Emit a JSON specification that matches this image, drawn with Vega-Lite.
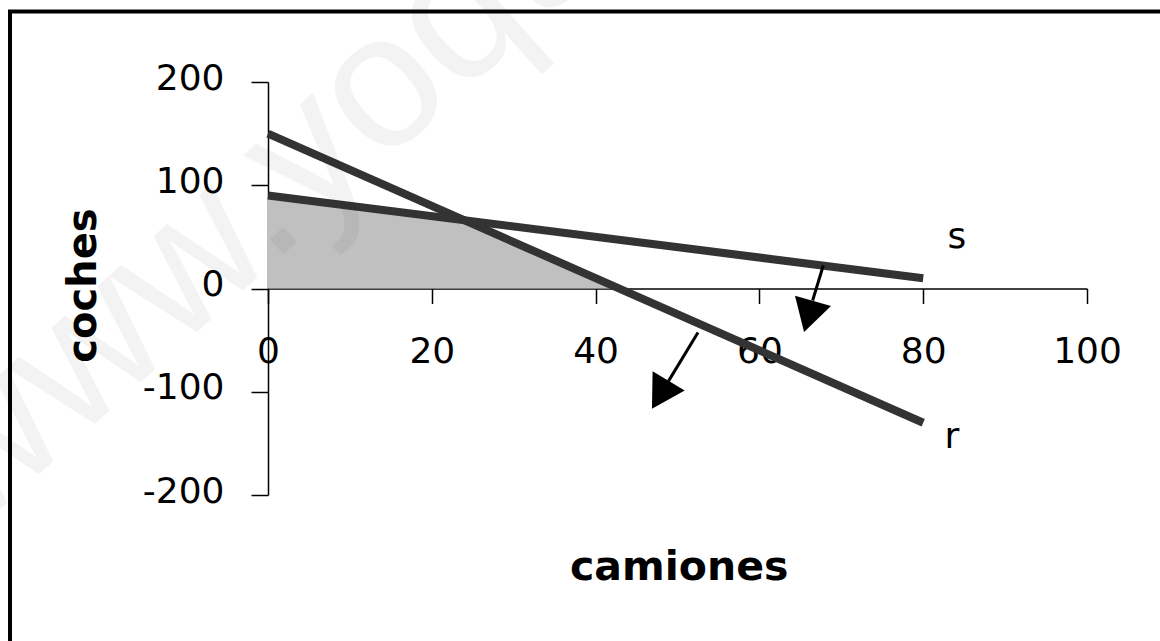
{
  "$schema": "https://vega.github.io/schema/vega-lite/v6.json",
  "width": 819,
  "height": 413,
  "autosize": {"type": "none"},
  "padding": {"left": 268, "top": 82, "right": 73, "bottom": 146},
  "background": "white",
  "config": {
    "view": {"stroke": null},
    "axis": {
      "grid": false,
      "domainColor": "#000000",
      "tickColor": "#000000",
      "labelColor": "#000000",
      "titleColor": "#000000",
      "domainWidth": 1.5,
      "tickWidth": 1.5,
      "labelFont": "DejaVu Sans",
      "labelFontSize": 36,
      "labelOverlap": false,
      "labelFlush": false,
      "labelBound": false,
      "titleFont": "DejaVu Sans",
      "titleFontWeight": "bold",
      "zindex": 1
    }
  },
  "datasets": {
    "region": [
      {"x": 0, "y": 90, "y0": 0},
      {"x": 24, "y": 66, "y0": 0},
      {"x": 42.857, "y": 0, "y0": 0}
    ],
    "lines": [
      {"x": 0, "y": 150, "recta": "r"},
      {"x": 80, "y": -130, "recta": "r"},
      {"x": 0, "y": 90, "recta": "s"},
      {"x": 80, "y": 10, "recta": "s"}
    ],
    "stems": [
      {"x": 67.8, "y": 22.3, "xe": 66.5, "ye": -11.6, "recta": "s"},
      {"x": 52.5, "y": -42.6, "xe": 48.9, "ye": -89.7, "recta": "r"}
    ],
    "heads": [
      {"x": 66.0, "y": -27.1, "ang": 16, "recta": "s"},
      {"x": 47.9, "y": -103.0, "ang": 31, "recta": "r"}
    ],
    "labels": [
      {"x": 84.1, "y": 39.7, "t": "s"},
      {"x": 83.5, "y": -154, "t": "r"}
    ],
    "frame": [
      {"x": -31.5, "xe": 130, "y": 268.3, "ye": -400}
    ],
    "mark": [
      {"x": -36.1, "y": -237.9, "t": "www.yoquieroaprobar.es"}
    ]
  },
  "layer": [
    {
      "data": {"name": "frame"},
      "mark": {"type": "rect", "fill": null, "filled": false, "stroke": "#000000", "strokeWidth": 4, "clip": false},
      "encoding": {
        "x": {"field": "x", "type": "quantitative", "scale": {"domain": [0, 100], "nice": false, "zero": false},
          "axis": {"values": [0, 20, 40, 60, 80, 100], "labelExpr": "'' + datum.value", "offset": -206.5, "tickSize": 15, "labelPadding": 59, "labelBaseline": "alphabetic", "labelAlign": "center", "title": "camiones", "titleFontSize": 41, "titleX": 410.7, "titleY": 291, "titleBaseline": "alphabetic", "titleAlign": "center", "titleAnchor": null}},
        "x2": {"field": "xe"},
        "y": {"field": "y", "type": "quantitative", "scale": {"domain": [-200, 200], "nice": false, "zero": false},
          "axis": {"values": [-200, -100, 0, 100, 200], "labelExpr": "'' + datum.value", "tickSize": 17, "labelPadding": 27, "labelBaseline": "alphabetic", "labelOffset": 7, "labelAlign": "right", "title": "coches", "titleFontSize": 40, "titleAngle": -90, "titleX": -172.5, "titleY": 203, "titleBaseline": "alphabetic", "titleAlign": "center", "titleAnchor": null}},
        "y2": {"field": "ye"}
      }
    },
    {
      "data": {"name": "region"},
      "mark": {"type": "area", "color": "#C0C0C0"},
      "encoding": {
        "x": {"field": "x", "type": "quantitative"},
        "y": {"field": "y", "type": "quantitative"},
        "y2": {"field": "y0"}
      }
    },
    {
      "data": {"name": "lines"},
      "mark": {"type": "line", "color": "#333333", "strokeWidth": 8},
      "encoding": {
        "x": {"field": "x", "type": "quantitative"},
        "y": {"field": "y", "type": "quantitative"},
        "detail": {"field": "recta"}
      }
    },
    {
      "data": {"name": "stems"},
      "mark": {"type": "rule", "color": "#000000", "strokeWidth": 3},
      "encoding": {
        "x": {"field": "x", "type": "quantitative"},
        "y": {"field": "y", "type": "quantitative"},
        "x2": {"field": "xe"},
        "y2": {"field": "ye"}
      }
    },
    {
      "data": {"name": "heads"},
      "mark": {"type": "point", "shape": "triangle-down", "filled": true, "color": "#000000", "opacity": 1, "size": 1400},
      "encoding": {
        "x": {"field": "x", "type": "quantitative"},
        "y": {"field": "y", "type": "quantitative"},
        "angle": {"field": "ang", "type": "quantitative", "scale": null}
      }
    },
    {
      "data": {"name": "labels"},
      "mark": {"type": "text", "font": "DejaVu Sans", "fontSize": 36, "color": "#000000", "align": "center", "baseline": "alphabetic"},
      "encoding": {
        "x": {"field": "x", "type": "quantitative"},
        "y": {"field": "y", "type": "quantitative"},
        "text": {"field": "t"}
      }
    },
    {
      "data": {"name": "mark"},
      "mark": {"type": "text", "font": "Liberation Sans", "fontSize": 190, "color": "#000000", "opacity": 0.045, "align": "left", "baseline": "alphabetic", "angle": -42, "clip": false},
      "encoding": {
        "x": {"field": "x", "type": "quantitative"},
        "y": {"field": "y", "type": "quantitative"},
        "text": {"field": "t"}
      }
    }
  ]
}
